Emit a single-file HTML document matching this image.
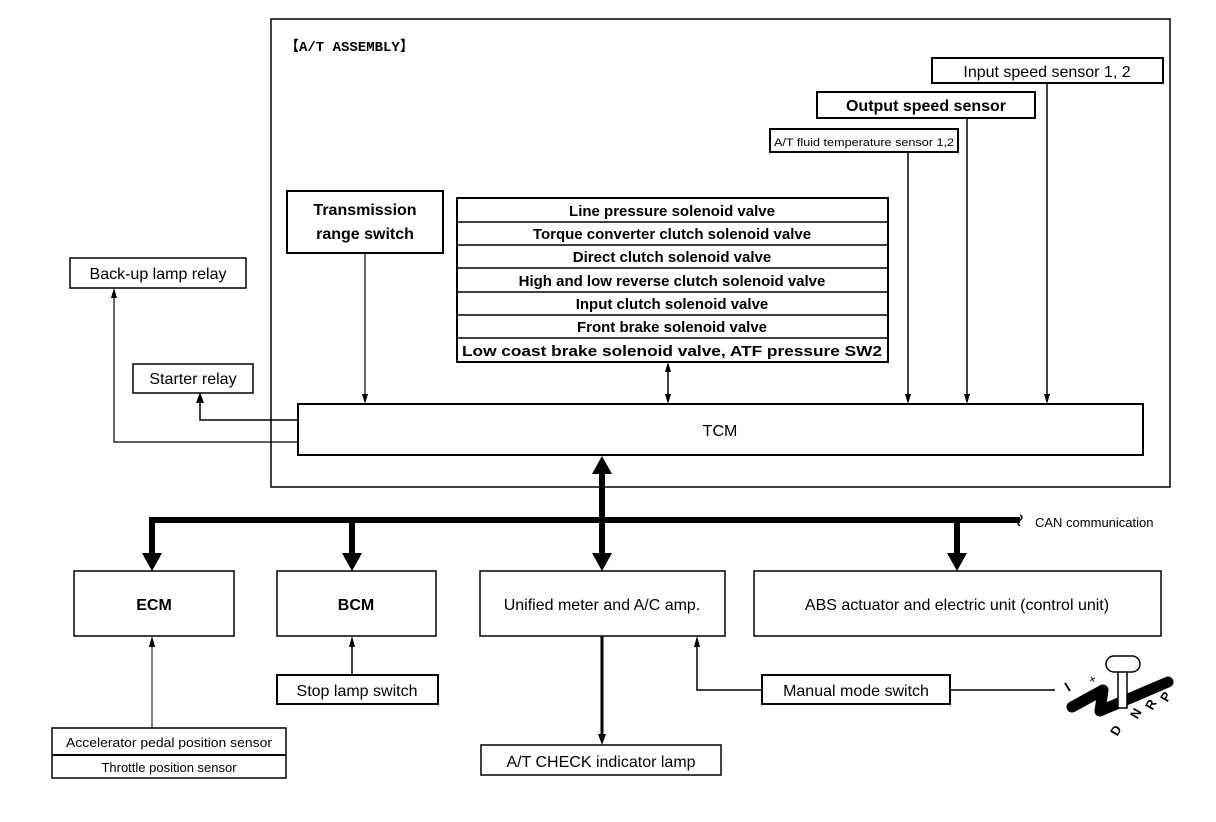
<!DOCTYPE html>
<html><head><meta charset="utf-8"><style>
html,body{margin:0;padding:0;background:#fff;}
svg{display:block;}
text{font-family:"Liberation Sans",Arial,sans-serif;fill:#000;}
</style></head><body>
<svg width="1216" height="822" viewBox="0 0 1216 822" xmlns="http://www.w3.org/2000/svg">
<g fill="none" stroke="#000">
<rect x="271" y="19" width="899" height="468" stroke-width="1.5"/>
<rect x="932" y="58" width="231" height="25" stroke-width="2"/>
<rect x="817" y="92" width="218" height="26" stroke-width="2"/>
<rect x="770" y="129" width="188" height="23" stroke-width="2"/>
<rect x="287" y="191" width="156" height="62" stroke-width="2"/>
<rect x="457" y="198" width="431" height="164" stroke-width="2"/>
<path d="M457 222H888M457 245H888M457 268H888M457 292H888M457 315H888M457 338H888" stroke-width="1.5"/>
<rect x="298" y="404" width="845" height="51" stroke-width="2"/>
<rect x="70" y="258" width="176" height="30" stroke-width="1.5"/>
<rect x="133" y="364" width="120" height="29" stroke-width="1.5"/>
<rect x="74" y="571" width="160" height="65" stroke-width="1.5"/>
<rect x="277" y="571" width="159" height="65" stroke-width="1.5"/>
<rect x="480" y="571" width="245" height="65" stroke-width="1.5"/>
<rect x="754" y="571" width="407" height="65" stroke-width="1.5"/>
<rect x="277" y="675" width="161" height="29" stroke-width="2"/>
<rect x="52" y="728" width="234" height="50" stroke-width="1.5"/>
<path d="M52 755H286" stroke-width="2"/>
<rect x="481" y="745" width="240" height="30" stroke-width="1.5"/>
<rect x="762" y="675" width="188" height="29" stroke-width="2"/>

<path d="M1047 83V396" stroke-width="1.5"/>
<path d="M967 118V396" stroke-width="1.5"/>
<path d="M908 152V396" stroke-width="1.5"/>
<path d="M365 253V396" stroke-width="1.2"/>
<path d="M668 370V396" stroke-width="1.5"/>
<path d="M298 442H114V296" stroke-width="1.2"/>
<path d="M298 420H200V400" stroke-width="1.5"/>

<path d="M152 520H1020" stroke-width="6"/>
<path d="M1020 515 q4 2 0 5 q-4 3 0 6" stroke-width="1.5"/>
<path d="M152 517V555" stroke-width="6"/>
<path d="M352 517V555" stroke-width="6"/>
<path d="M957 517V555" stroke-width="6"/>
<path d="M602 472V555" stroke-width="6"/>

<path d="M152 728V645" stroke-width="1"/>
<path d="M352 675V645" stroke-width="1.5"/>
<path d="M602 636V736" stroke-width="3"/>
<path d="M762 690H697V645" stroke-width="1.5"/>
<path d="M950 690H1055" stroke-width="1.5"/>

<path d="M1072 707L1103 690L1100 711L1168 682" stroke-width="11" stroke-linejoin="round" stroke-linecap="round"/>
<path d="M1118 670V708H1127V670Z" fill="#fff" stroke-width="1.5"/>
<rect x="1106" y="656" width="34" height="16" rx="8" fill="#fff" stroke-width="1.5"/>
<path d="M1065 683L1070 691" stroke-width="2"/>
</g>
<g fill="#000">
<polygon points="1044,394 1050,394 1047,404"/>
<polygon points="964,394 970,394 967,404"/>
<polygon points="905,394 911,394 908,404"/>
<polygon points="362,394 368,394 365,404"/>
<polygon points="665,394 671,394 668,404"/>
<polygon points="665,372 671,372 668,362"/>
<polygon points="111,298 117,298 114,288"/>
<polygon points="196,403 204,403 200,392"/>
<polygon points="142,553 162,553 152,571"/>
<polygon points="342,553 362,553 352,571"/>
<polygon points="947,553 967,553 957,571"/>
<polygon points="592,553 612,553 602,571"/>
<polygon points="592,474 612,474 602,456"/>
<polygon points="149,647 155,647 152,636"/>
<polygon points="349,647 355,647 352,636"/>
<polygon points="694,647 700,647 697,636"/>
<polygon points="598,734 606,734 602,745"/>
</g>
<text x="1089" y="683" font-size="12" transform="rotate(-30 1093 679)">+</text>
<g font-size="13" font-weight="bold">
<text x="1160" y="700" transform="rotate(-60 1166 695)">P</text>
<text x="1145" y="708" transform="rotate(-60 1151 703)">R</text>
<text x="1130" y="717" transform="rotate(-60 1136 712)">N</text>
<text x="1110" y="734" transform="rotate(-60 1116 729)">D</text>
</g>

<text x="285" y="51" font-size="14" font-weight="bold" style="font-family:'Liberation Mono','Noto Sans CJK JP',monospace">【A/T ASSEMBLY】</text>
<g font-size="16" text-anchor="middle">
<text x="1047" y="77">Input speed sensor 1, 2</text>
<text x="926" y="111" font-weight="bold">Output speed sensor</text>
<text x="365" y="215" font-weight="bold">Transmission</text>
<text x="365" y="239" font-weight="bold">range switch</text>
</g>
<text x="864" y="146" font-size="11" text-anchor="middle" textLength="180" lengthAdjust="spacingAndGlyphs">A/T fluid temperature sensor 1,2</text>
<g font-size="15" font-weight="bold" text-anchor="middle">
<text x="672" y="216">Line pressure solenoid valve</text>
<text x="672" y="239">Torque converter clutch solenoid valve</text>
<text x="672" y="262">Direct clutch solenoid valve</text>
<text x="672" y="286">High and low reverse clutch solenoid valve</text>
<text x="672" y="309">Input clutch solenoid valve</text>
<text x="672" y="332">Front brake solenoid valve</text>
<text x="462" y="356" text-anchor="start" textLength="420" lengthAdjust="spacingAndGlyphs">Low coast brake solenoid valve, ATF pressure SW2</text>
</g>
<g font-size="16" text-anchor="middle">
<text x="720" y="436">TCM</text>
<text x="158" y="279">Back-up lamp relay</text>
<text x="193" y="384">Starter relay</text>
<text x="154" y="610" font-weight="bold">ECM</text>
<text x="356" y="610" font-weight="bold">BCM</text>
<text x="602" y="610">Unified meter and A/C amp.</text>
<text x="957" y="610">ABS actuator and electric unit (control unit)</text>
<text x="357" y="696">Stop lamp switch</text>
<text x="856" y="696">Manual mode switch</text>
<text x="601" y="767">A/T CHECK indicator lamp</text>
</g>
<g font-size="13" text-anchor="middle">
<text x="66" y="747" text-anchor="start" textLength="206" lengthAdjust="spacingAndGlyphs">Accelerator pedal position sensor</text>
<text x="169" y="772">Throttle position sensor</text>
</g>
<text x="1035" y="527" font-size="13">CAN communication</text>
</svg>
</body></html>
